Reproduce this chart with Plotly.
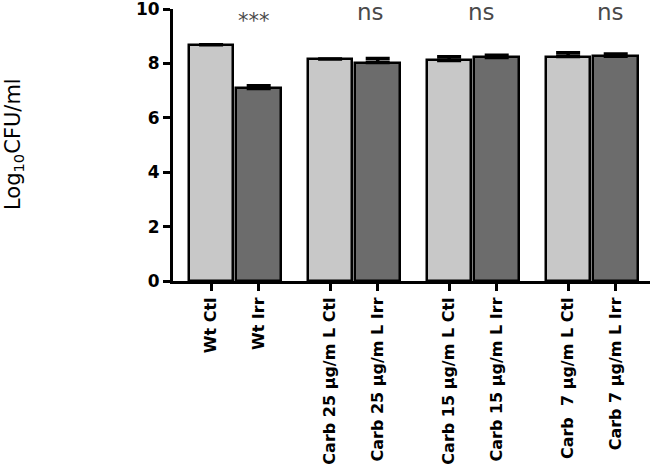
import plotly.graph_objects as go

categories = ["Wt Ctl", "Wt Irr",
              "Carb 25 µg/m L Ctl", "Carb 25 µg/m L Irr",
              "Carb 15 µg/m L Ctl", "Carb 15 µg/m L Irr",
              "Carb  7 µg/m L Ctl", "Carb 7 µg/m L Irr"]
positions = [0, 1, 2.5, 3.5, 5, 6, 7.5, 8.5]
values = [8.69, 7.08, 8.16, 8.03, 8.11, 8.22, 8.25, 8.26]
errors = [0.0, 0.10, 0.0, 0.15, 0.13, 0.08, 0.14, 0.09]
bar_colors = ["#c8c8c8", "#6c6c6c"] * 4
sig_labels = ["***", "ns", "ns", "ns"]
sig_x = [0.9, 3.34, 5.69, 8.38]
sig_y = [9.55, 9.88, 9.88, 9.88]
sig_size = [21, 23, 23, 23]
y_ticks = [0, 2, 4, 6, 8, 10]

FONT_B = "DejaVu Sans"

fig = go.Figure()
fig.add_trace(go.Bar(
    x=positions, y=values, width=0.94,
    marker=dict(color=bar_colors, line=dict(color="black", width=2.5)),
    error_y=dict(type="data", symmetric=False, array=errors,
                 arrayminus=[0]*len(errors), color="black",
                 thickness=3.5, width=12),
    showlegend=False,
))

for lab, xx, yy, sz in zip(sig_labels, sig_x, sig_y, sig_size):
    fig.add_annotation(x=xx, y=yy, text=lab, showarrow=False,
                       font=dict(size=sz, color="#4a4a4a", family=FONT_B),
                       xref="x", yref="y")

fig.add_annotation(x=(14 - 173) / 477, xref="paper", xanchor="center",
                   y=(281 - 144) / 272, yref="paper", yanchor="middle",
                   text="Log<sub>10</sub>CFU/ml", textangle=-90,
                   showarrow=False,
                   font=dict(size=21, color="black", family=FONT_B))

fig.update_layout(
    width=653, height=468,
    margin=dict(l=173, r=3, t=9, b=187, autoexpand=False),
    plot_bgcolor="white", paper_bgcolor="white",
    font=dict(family=FONT_B, color="black"),
    bargap=0,
)

fig.update_xaxes(
    range=[-0.8, 9.22], tickmode="array", tickvals=positions,
    ticktext=["<b>%s</b>" % c for c in categories],
    tickangle=-90, ticks="outside", ticklen=7, tickwidth=2.5,
    tickcolor="black", showline=True, linecolor="black", linewidth=3,
    showgrid=False, zeroline=False, automargin=False,
    ticklabeloverflow="allow",
    tickfont=dict(size=16, color="black", family=FONT_B),
)
fig.update_yaxes(
    range=[0, 10], tickmode="array", tickvals=y_ticks,
    ticktext=["<b>%d</b>" % t for t in y_ticks],
    ticks="outside", ticklen=7, tickwidth=2.5, tickcolor="black",
    showline=True, linecolor="black", linewidth=3,
    showgrid=False, zeroline=False, automargin=False,
    ticklabeloverflow="allow",
    tickfont=dict(size=17, color="black", family=FONT_B),
)

fig.write_html("out.html",
               config={"displayModeBar": False},
               post_script="document.body.style.margin='0';"
                           "document.body.style.overflow='hidden';")
